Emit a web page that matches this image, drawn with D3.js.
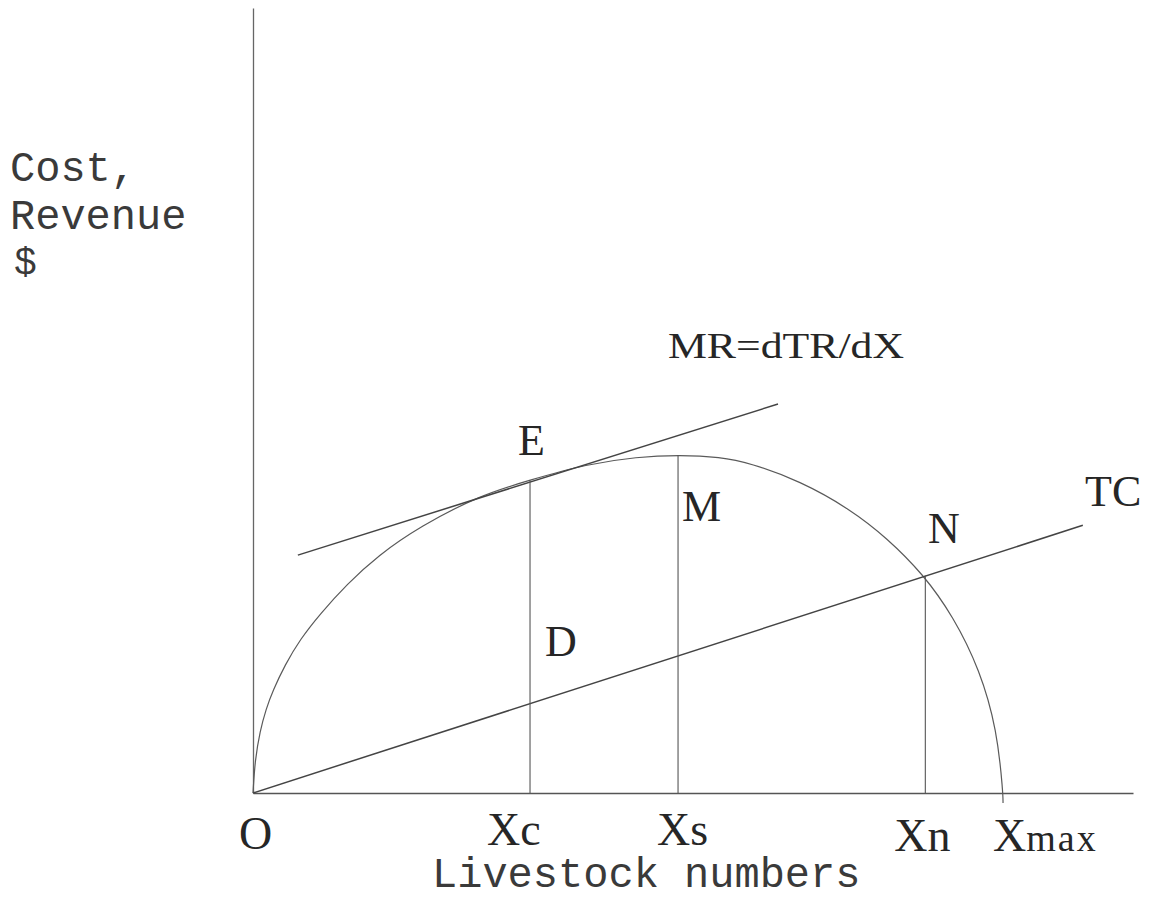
<!DOCTYPE html>
<html>
<head>
<meta charset="utf-8">
<script src="https://cdn.jsdelivr.net/npm/d3@7"></script>
<style>
  html, body { margin: 0; padding: 0; background: #fff; }
  svg { display: block; }
  .serif { font-family: "Liberation Serif", "Times New Roman", serif; fill: #262626; }
  .mono { font-family: "Courier New", "Liberation Mono", monospace; fill: #3a3a3a; }
</style>
</head>
<body>
<svg id="chart" width="1160" height="900"></svg>
<script>
// Total revenue curve TR(X), in livestock units (x) and dollars (y)
const trX = [0, 0.23, 0.80, 1.48, 2.27, 3.64, 5.34, 7.61, 10.68, 14.20, 18.98, 25.80, 31.48, 37.95, 43.64, 48.52, 53.07, 56.48, 62.16, 67.84, 72.05, 76.14, 79.55, 82.61, 84.55, 85.23, 85.23];
const trY = [0, 4.20, 7.90, 10.70, 13.07, 16.33, 19.55, 22.80, 26.60, 30.25, 33.96, 37.94, 39.87, 41.90, 42.82, 43.06, 42.80, 42.04, 39.75, 36.18, 32.48, 27.90, 22.55, 15.67, 8.03, 0, -1.27];

// Total cost line TC
const tcX = [0, 94.3];
const tcY = [0, 34.1];

// Tangent to TR at E (marginal revenue)
const mrX = [5.1, 59.66];
const mrY = [30.3, 49.55];

// Stocking levels marked on the x axis, with the heights their verticals reach
const markNames = ["Xc", "Xs", "Xn"];
const markX = [31.48, 48.3, 76.4];
const markTop = [39.8, 43.0, 27.7];
const xMax = 85.23;

// Axis title lines
const yTitle = ["Cost,", "Revenue", "$"];
const xTitle = "Livestock numbers";

const svg = d3.select("#chart");
const x = d3.scaleLinear().domain([0, 100]).range([253, 1133]);
const y = d3.scaleLinear().domain([0, 100]).range([793, 8]);

// Axes: bare lines, no ticks
svg.append("g")
  .attr("transform", `translate(0,${y(0)})`)
  .call(d3.axisBottom(x).tickValues([]).tickSizeOuter(0))
  .call(g => g.select(".domain").attr("stroke", "#555").attr("stroke-width", 1.3));
svg.append("g")
  .attr("transform", `translate(${x(0)},0)`)
  .call(d3.axisLeft(y).tickValues([]).tickSizeOuter(0))
  .call(g => g.select(".domain").attr("stroke", "#666").attr("stroke-width", 1.3));

// TR curve, smoothed through the sampled points
const curveLine = d3.line()
  .x(d => x(d[0])).y(d => y(d[1]))
  .curve(d3.curveBasis);
svg.append("path")
  .datum(trX.map((v, i) => [v, trY[i]]))
  .attr("fill", "none").attr("stroke", "#5a5a5a").attr("stroke-width", 1.2)
  .attr("d", curveLine);

const straight = d3.line().x(d => x(d[0])).y(d => y(d[1]));

// TC line
svg.append("path")
  .datum(tcX.map((v, i) => [v, tcY[i]]))
  .attr("fill", "none").attr("stroke", "#444").attr("stroke-width", 1.5)
  .attr("d", straight);

// MR tangent
svg.append("path")
  .datum(mrX.map((v, i) => [v, mrY[i]]))
  .attr("fill", "none").attr("stroke", "#444").attr("stroke-width", 1.5)
  .attr("d", straight);

// Verticals at Xc, Xs, Xn
svg.selectAll("line.mark")
  .data(markX)
  .join("line")
  .attr("class", "mark")
  .attr("x1", d => x(d)).attr("x2", d => x(d))
  .attr("y1", y(0)).attr("y2", (d, i) => y(markTop[i]))
  .attr("stroke", "#555").attr("stroke-width", 1.1);

// Labels under the x axis
const fs = 46;
svg.append("text").attr("class", "serif").attr("font-size", fs)
  .attr("x", x(0) - 14).attr("y", 849).text("O");
const markLabelX = [x(markX[0]) - 43, x(markX[1]) - 21, x(markX[2]) - 31];
const markLabelY = [845, 845, 851];
svg.selectAll("text.marklab")
  .data(markNames)
  .join("text")
  .attr("class", "serif marklab").attr("font-size", fs)
  .attr("x", (d, i) => markLabelX[i]).attr("y", (d, i) => markLabelY[i])
  .text(d => d);
const xm = svg.append("text").attr("class", "serif").attr("font-size", fs)
  .attr("x", x(xMax) - 10).attr("y", 851);
xm.append("tspan").text("X");
xm.append("tspan").attr("font-size", 38).attr("letter-spacing", 2).text("max");

// Point labels
const pts = [
  { t: "E", px: 518, py: 455 },
  { t: "M", px: 682, py: 521 },
  { t: "N", px: 928, py: 543 },
  { t: "D", px: 545, py: 656 },
  { t: "TC", px: 1085, py: 506 }
];
svg.selectAll("text.pt")
  .data(pts)
  .join("text")
  .attr("class", "serif pt").attr("font-size", 44)
  .attr("x", d => d.px).attr("y", d => d.py)
  .text(d => d.t);

svg.append("text").attr("class", "serif").attr("font-size", 36)
  .attr("x", 668).attr("y", 358)
  .attr("textLength", 236).attr("lengthAdjust", "spacingAndGlyphs")
  .text("MR=dTR/dX");

// Axis titles in typewriter face
const mono = 42;
const yLineX = [10, 10, 14];
const yLineY = [181, 229, 274];
svg.append("text").attr("class", "mono").attr("font-size", mono)
  .selectAll("tspan")
  .data(yTitle)
  .join("tspan")
  .attr("x", (d, i) => yLineX[i]).attr("y", (d, i) => yLineY[i])
  .attr("font-size", (d, i) => i === 2 ? 38 : mono)
  .text(d => d);
svg.append("text").attr("class", "mono").attr("font-size", mono)
  .attr("x", 432).attr("y", 887).text(xTitle);
</script>
</body>
</html>
